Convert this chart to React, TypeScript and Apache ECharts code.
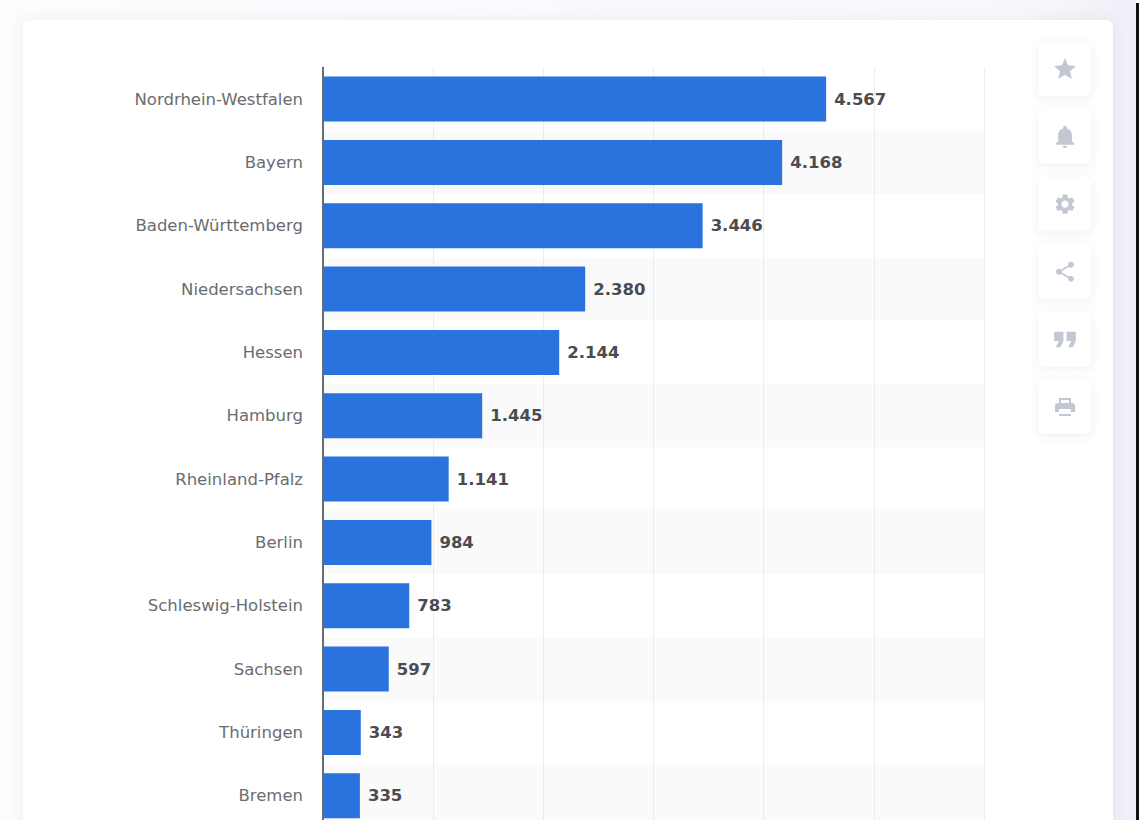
import React, { useEffect, useRef } from "react";
import * as echarts from "echarts";

const categories = [
  "Nordrhein-Westfalen", "Bayern", "Baden-Württemberg", "Niedersachsen", "Hessen", "Hamburg",
  "Rheinland-Pfalz", "Berlin", "Schleswig-Holstein", "Sachsen", "Thüringen", "Bremen",
];
const values = [4567, 4168, 3446, 2380, 2144, 1445, 1141, 984, 783, 597, 343, 335];

const iconPaths: Record<string, string> = {
  star: "M12 17.27L18.18 21l-1.64-7.03L22 9.24l-7.19-.61L12 2 9.19 8.63 2 9.24l5.46 4.73L5.82 21z",
  bell: "M12 22c1.1 0 2-.9 2-2h-4c0 1.1.9 2 2 2zm6-6v-5c0-3.07-1.63-5.64-4.5-6.32V4c0-.83-.67-1.5-1.5-1.5s-1.5.67-1.5 1.5v.68C7.64 5.36 6 7.92 6 11v5l-2 2v1h16v-1l-2-2z",
  gear: "M19.14 12.94c.04-.3.06-.61.06-.94 0-.32-.02-.64-.07-.94l2.03-1.58c.18-.14.23-.41.12-.61l-1.92-3.32c-.12-.22-.37-.29-.59-.22l-2.39.96c-.5-.38-1.03-.7-1.62-.94l-.36-2.54c-.04-.24-.24-.41-.48-.41h-3.84c-.24 0-.43.17-.47.41l-.36 2.54c-.59.24-1.13.57-1.62.94l-2.39-.96c-.22-.08-.47 0-.59.22L2.74 8.87c-.12.21-.08.47.12.61l2.03 1.58c-.05.3-.09.63-.09.94s.02.64.07.94l-2.03 1.58c-.18.14-.23.41-.12.61l1.92 3.32c.12.22.37.29.59.22l2.39-.96c.5.38 1.03.7 1.62.94l.36 2.54c.05.24.24.41.48.41h3.84c.24 0 .44-.17.47-.41l.36-2.54c.59-.24 1.13-.56 1.62-.94l2.39.96c.22.08.47 0 .59-.22l1.92-3.32c.12-.22.07-.47-.12-.61l-2.01-1.58zM12 15.6c-1.98 0-3.6-1.62-3.6-3.6s1.62-3.6 3.6-3.6 3.6 1.62 3.6 3.6-1.62 3.6-3.6 3.6z",
  share: "M18 16.08c-.76 0-1.44.3-1.96.77L8.91 12.7c.05-.23.09-.46.09-.7s-.04-.47-.09-.7l7.05-4.11c.54.5 1.25.81 2.04.81 1.66 0 3-1.34 3-3s-1.34-3-3-3-3 1.34-3 3c0 .24.04.47.09.7L8.04 9.81C7.5 9.31 6.79 9 6 9c-1.66 0-3 1.34-3 3s1.34 3 3 3c.79 0 1.5-.31 2.04-.81l7.12 4.16c-.05.21-.08.43-.08.65 0 1.61 1.31 2.92 2.92 2.92s2.92-1.31 2.92-2.92-1.31-2.92-2.92-2.92z",
  quote: "M6 17h3l2-4V7H5v6h3zm8 0h3l2-4V7h-6v6h3z",
  print: "M19 8H5c-1.66 0-3 1.34-3 3v6h4v-3h12v3h4v-6c0-1.66-1.34-3-3-3zM6 19h12v2H6zM8 5h8v3h2V3H6v5h2z",
};
const iconNames = ["star", "bell", "gear", "share", "quote", "print"];
const iconScales: Record<string, number> = { star: 1.1, bell: 1.15, gear: 1.0, share: 1.0, quote: 1.55, print: 1.0 };
iconNames.forEach((n) => echarts.graphic.registerShape("icon-" + n, echarts.graphic.extendPath(iconPaths[n], {}) as any));

const FONT = '"DejaVu Sans", sans-serif';

export default function App() {
  const ref = useRef<HTMLDivElement>(null);
  useEffect(() => {
    const chart = echarts.init(ref.current!, undefined, { renderer: "svg" });
    const buttons: any[] = [];
    iconNames.forEach((n, i) => {
      const y = 42 + i * 67.6;
      const s = iconScales[n];
      buttons.push({
        type: "rect", z: -8, shape: { x: 1038, y, width: 53, height: 54, r: 6 },
        style: { fill: "#ffffff", shadowBlur: 8, shadowColor: "rgba(90,95,140,0.10)", shadowOffsetY: 2 },
      });
      buttons.push({
        type: "icon-" + n, z: -7, x: 1065 - 12 * s, y: y + 27 - 12 * s, scaleX: s, scaleY: s,
        style: { fill: "#c3c7d3" },
      });
    });
    chart.setOption({
      animation: false,
      backgroundColor: "#ffffff",
      graphic: [
        {
          type: "rect", z: -12, shape: { x: 0, y: 0, width: 1136, height: 860 },
          style: {
            fill: new echarts.graphic.LinearGradient(0, 0, 1, 0, [
              { offset: 0, color: "#fdfdfe" }, { offset: 0.9, color: "#f8f8fc" }, { offset: 1, color: "#efeff7" },
            ]),
          },
        },
        {
          type: "rect", z: -11, shape: { x: 23, y: 20, width: 1090, height: 830, r: 8 },
          style: { fill: "#ffffff", shadowBlur: 14, shadowColor: "rgba(90,95,150,0.10)" },
        },
        ...buttons,
        { type: "rect", z: 20, shape: { x: 1136, y: 3, width: 3, height: 857 }, style: { fill: "#111111" } },
      ],
      grid: { left: 323, top: 67.4, width: 661, height: 760, containLabel: false },
      xAxis: {
        type: "value", min: 0, max: 6000, interval: 1000,
        axisLabel: { show: false }, axisLine: { show: false }, axisTick: { show: false },
        splitLine: { show: true, lineStyle: { color: "#dcdce2", type: "dotted", width: 1 } },
      },
      yAxis: {
        type: "category", inverse: true, data: categories,
        axisLine: { show: true, lineStyle: { color: "#3a3f47", width: 1.5 } },
        axisTick: { show: false },
        axisLabel: { color: "#6a6c70", fontFamily: FONT, fontSize: 16.5, margin: 20, padding: [2, 0, 0, 0] },
        splitArea: { show: true, areaStyle: { color: ["rgba(255,255,255,0)", "#fafafb"] } },
      },
      series: [
        {
          type: "bar", data: values, barWidth: 45,
          itemStyle: { color: "#2a72dd" },
          label: {
            show: true, position: "right", distance: 8, color: "#4a4c50",
            fontFamily: FONT, fontWeight: "bold", fontSize: 16.5,
            formatter: (p: any) => String(p.value).replace(/\B(?=(\d{3})+$)/g, "."),
          },
        },
      ],
    });
    return () => chart.dispose();
  }, []);
  return (
    <div style={{ position: "fixed", left: 0, top: 0, width: 1144, height: 820, overflow: "hidden" }}>
      <div ref={ref} style={{ width: 1144, height: 860 }} />
    </div>
  );
}
